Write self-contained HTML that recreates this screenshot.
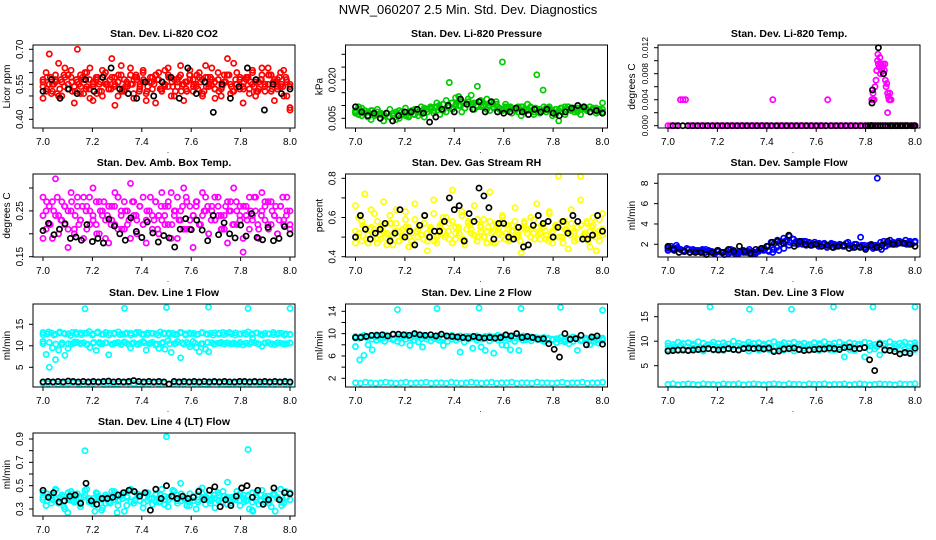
<!DOCTYPE html>
<html><head><meta charset="utf-8"><style>
html,body{margin:0;padding:0;background:#fff;}
svg{display:block;font-family:"Liberation Sans",Arial,sans-serif;}
</style></head><body>
<svg id="chart" width="936" height="540" viewBox="0 0 936 540" xmlns="http://www.w3.org/2000/svg">
<rect x="0" y="0" width="936" height="540" fill="#fff"/>
<text x="468" y="14" text-anchor="middle" font-size="13" fill="#000">NWR_060207  2.5 Min. Std. Dev. Diagnostics</text>
</svg>
<script>
// ---- data arrays (top level) ----
const xTicks = [7.0, 7.2, 7.4, 7.6, 7.8, 8.0];
const xTickLabels = ["7.0", "7.2", "7.4", "7.6", "7.8", "8.0"];

const co2Red1 = [0.49,0.60,0.55,0.52,0.57,0.64,0.50,0.58,0.53,0.61,0.47,0.56,0.59,0.51,0.54,0.62,0.48,0.57,0.55,0.50,0.60,0.53,0.58,0.46,0.56,0.63,0.52,0.55,0.59,0.49,0.57,0.54,0.61,0.51,0.56,0.58,0.47,0.60,0.53,0.55,0.62,0.50,0.57,0.54,0.59,0.48,0.56,0.61,0.52,0.55,0.58,0.50,0.63,0.54,0.57,0.49,0.60,0.53,0.56,0.59,0.51,0.64,0.55,0.58,0.47,0.57,0.53,0.60,0.50,0.56,0.62,0.52,0.55,0.59,0.48,0.57,0.54,0.61,0.50,0.45];
const co2Red2 = [0.57,0.52,0.68,0.55,0.59,0.50,0.56,0.62,0.53,0.58,0.54,0.70,0.51,0.57,0.60,0.49,0.55,0.58,0.52,0.61,0.56,0.53,0.66,0.55,0.50,0.59,0.57,0.54,0.62,0.51,0.58,0.55,0.60,0.48,0.56,0.53,0.59,0.57,0.52,0.61,0.54,0.58,0.50,0.56,0.63,0.55,0.52,0.59,0.57,0.54,0.60,0.51,0.58,0.55,0.62,0.53,0.57,0.50,0.59,0.66,0.55,0.52,0.60,0.57,0.54,0.58,0.51,0.61,0.56,0.53,0.59,0.55,0.62,0.52,0.57,0.54,0.60,0.50,0.56,0.44];
const co2Red3 = [0.54,0.58,0.51,0.56,0.53,0.59,0.55,0.52,0.57,0.54,0.60,0.53,0.56,0.58,0.52,0.55,0.57,0.54,0.59,0.53,0.56,0.55,0.58,0.52,0.57,0.54,0.56,0.59,0.53,0.55,0.58,0.54,0.57,0.52,0.56,0.59,0.55,0.53,0.57,0.54,0.58,0.56,0.52,0.55,0.59,0.54,0.57,0.53,0.56,0.58,0.55,0.52,0.57,0.54,0.59,0.56,0.53,0.55,0.58,0.54];
const co2Red4 = [0.56,0.53,0.58,0.55,0.51,0.57,0.54,0.59,0.56,0.52,0.55,0.58,0.53,0.57,0.54,0.51,0.56,0.59,0.55,0.53,0.58,0.56,0.52,0.54,0.57,0.55,0.59,0.53,0.56,0.52,0.58,0.55,0.57,0.53,0.54,0.59,0.56,0.52,0.58,0.55,0.53,0.57,0.54,0.59,0.56,0.52,0.58,0.55,0.53,0.57,0.54,0.56,0.59,0.52,0.55,0.57,0.53,0.58,0.56,0.54,0.52,0.57,0.55,0.59,0.53,0.56,0.58,0.54,0.57,0.55];
const co2Black = [0.52,0.57,0.49,0.53,0.51,0.57,0.52,0.58,0.62,0.53,0.51,0.49,0.56,0.50,0.56,0.58,0.49,0.62,0.51,0.56,0.43,0.55,0.49,0.54,0.62,0.57,0.44,0.55,0.51,0.53];

const presGreen1 = [0.008,0.0065,0.009,0.007,0.0055,0.008,0.006,0.0075,0.005,0.0065,0.007,0.0055,0.006,0.0075,0.005,0.0065,0.007,0.006,0.008,0.0065,0.0075,0.007,0.009,0.0085,0.0095,0.008,0.011,0.009,0.0105,0.012,0.0095,0.011,0.013,0.010,0.0115,0.009,0.0125,0.0105,0.011,0.0095,0.012,0.010,0.0085,0.011,0.0095,0.0105,0.009,0.008,0.0095,0.0085,0.009,0.008,0.0075,0.0095,0.0085,0.008,0.009,0.0075,0.0085,0.007,0.008,0.009,0.0085,0.0075,0.0065,0.008,0.009,0.0085,0.0095,0.008,0.009,0.0075,0.0085,0.009,0.008,0.0075,0.0085,0.009,0.008,0.011];
const presGreen2 = [0.007,0.0095,0.006,0.008,0.0075,0.0045,0.007,0.0085,0.0065,0.004,0.007,0.0085,0.006,0.0045,0.008,0.0065,0.009,0.0055,0.0075,0.0085,0.006,0.0095,0.0055,0.0075,0.0085,0.007,0.0095,0.0065,0.008,0.0075,0.019,0.0085,0.010,0.0135,0.0075,0.009,0.0105,0.014,0.0085,0.0175,0.0115,0.0095,0.0125,0.008,0.0105,0.0115,0.0085,0.027,0.0105,0.009,0.007,0.0085,0.0095,0.006,0.0075,0.0105,0.0095,0.0065,0.022,0.0085,0.016,0.0075,0.0095,0.006,0.0085,0.004,0.0075,0.0065,0.0095,0.0085,0.0075,0.009,0.0065,0.0095,0.0085,0.0075,0.009,0.007,0.0085,0.0075];
const presGreen3 = [0.0075,0.0085,0.007,0.006,0.008,0.0065,0.007,0.006,0.0055,0.007,0.0065,0.0075,0.006,0.007,0.0065,0.0075,0.008,0.0085,0.009,0.0095,0.010,0.0105,0.0095,0.011,0.0105,0.010,0.011,0.0115,0.0105,0.010,0.0095,0.0105,0.010,0.009,0.0095,0.0085,0.009,0.0095,0.0085,0.009,0.0095,0.0085,0.008,0.009,0.0085,0.0095,0.009,0.008,0.0085,0.009,0.0095,0.0085,0.009,0.008,0.0085,0.009,0.0095,0.0085,0.0075,0.0085];
const presBlack = [0.0095,0.0075,0.006,0.007,0.005,0.007,0.004,0.006,0.0075,0.0075,0.0085,0.007,0.0035,0.0055,0.0085,0.010,0.0075,0.0125,0.0105,0.0085,0.0115,0.0075,0.0115,0.0075,0.007,0.0075,0.009,0.0075,0.0065,0.0085,0.0075,0.0085,0.007,0.006,0.0075,0.009,0.010,0.0095,0.0075,0.008,0.007];

const tempMagenta = [0,0,0,0,0,0.004,0.004,0.004,0,0,0,0,0,0,0,0,0,0,0,0,0,0,0,0,0,0,0,0,0,0,0,0,0,0,0,0,0,0,0,0,0,0,0.004,0,0,0,0,0,0,0,0,0,0,0,0,0,0,0,0,0,0,0,0,0,0.004,0,0,0,0,0,0,0,0,0,0,0,0,0,0,0,0,0,0.004,0,0,0,0,0,0.002,0,0,0,0,0,0,0,0,0,0,0];
const tempHumpTimes = [7.825,7.83,7.835,7.838,7.842,7.845,7.848,7.85,7.852,7.855,7.858,7.86,7.862,7.865,7.868,7.87,7.873,7.876,7.878,7.88,7.883,7.886,7.889,7.892,7.895,7.898,7.9,7.903];
const tempHumpVals = [0.004,0.005,0.004,0.006,0.007,0.0085,0.010,0.011,0.0095,0.009,0.0105,0.008,0.0095,0.0085,0.009,0.0095,0.008,0.0085,0.0095,0.007,0.006,0.0065,0.005,0.0045,0.004,0.005,0.004,0.004];
const tempBlack = [0,0,0,0,0,0,0,0,0,0,0,0,0,0,0,0,0,0,0,0,0,0,0,0,0,0,0,0,0,0,0,0,0,0,0,0,0,0,0,0,0,0,0,0,0,0,0,0,0,0,0,0,0,0,0,0,0,0,0,0,0.0035,0.0055,0.012,0.008,0,0,0,0,0,0,0];
const tempBlackTimes = [7.02,7.04,7.06,7.08,7.10,7.12,7.14,7.16,7.18,7.20,7.22,7.24,7.26,7.28,7.30,7.32,7.34,7.36,7.38,7.40,7.42,7.44,7.46,7.48,7.50,7.52,7.54,7.56,7.58,7.60,7.62,7.64,7.66,7.68,7.70,7.72,7.74,7.76,7.78,7.80,7.81,7.82,7.822,7.824,7.826,7.83,7.84,7.85,7.86,7.87,7.88,7.89,7.90,7.91,7.92,7.93,7.94,7.95,7.96,7.97,7.826,7.828,7.852,7.872,7.905,7.925,7.945,7.965,7.985,7.995,8.0];

const ambMagenta1 = [0.28,0.21,0.26,0.19,0.32,0.24,0.27,0.22,0.25,0.29,0.20,0.26,0.23,0.28,0.21,0.25,0.30,0.22,0.27,0.24,0.19,0.26,0.23,0.29,0.21,0.25,0.27,0.22,0.31,0.24,0.20,0.26,0.28,0.23,0.25,0.21,0.27,0.24,0.29,0.22,0.26,0.19,0.25,0.28,0.23,0.30,0.21,0.26,0.24,0.27,0.22,0.29,0.25,0.20,0.26,0.23,0.28,0.24,0.21,0.27,0.25,0.30,0.22,0.26,0.19,0.24,0.28,0.23,0.25,0.21,0.29,0.26,0.22,0.27,0.24,0.20,0.26,0.23,0.28,0.25];
const ambMagenta2 = [0.19,0.25,0.22,0.27,0.24,0.20,0.23,0.26,0.17,0.25,0.21,0.28,0.23,0.19,0.26,0.22,0.24,0.27,0.20,0.25,0.23,0.18,0.26,0.22,0.28,0.24,0.21,0.25,0.19,0.27,0.23,0.26,0.22,0.18,0.25,0.24,0.27,0.20,0.23,0.26,0.22,0.29,0.24,0.19,0.25,0.21,0.27,0.23,0.17,0.26,0.22,0.24,0.28,0.20,0.25,0.23,0.26,0.21,0.24,0.18,0.27,0.22,0.25,0.23,0.16,0.26,0.21,0.24,0.28,0.19,0.25,0.23,0.27,0.22,0.24,0.20,0.26,0.22,0.25,0.21];
const ambMagenta3 = [0.24,0.27,0.22,0.25,0.28,0.23,0.26,0.21,0.27,0.24,0.22,0.26,0.25,0.28,0.23,0.20,0.25,0.27,0.24,0.22,0.26,0.28,0.21,0.25,0.23,0.27,0.24,0.26,0.22,0.25,0.28,0.23,0.21,0.26,0.24,0.27,0.22,0.25,0.23,0.26,0.28,0.21,0.24,0.27,0.22,0.25,0.26,0.23,0.28,0.24,0.21,0.26,0.25,0.22,0.27,0.24,0.26,0.23,0.25,0.28,0.22,0.24,0.27,0.21,0.25,0.26,0.23,0.28,0.24,0.22];
const ambBlack = [0.207,0.223,0.198,0.210,0.222,0.190,0.193,0.186,0.220,0.183,0.190,0.180,0.232,0.217,0.200,0.186,0.235,0.205,0.192,0.226,0.202,0.182,0.196,0.191,0.171,0.210,0.233,0.209,0.230,0.208,0.185,0.240,0.198,0.224,0.200,0.191,0.219,0.195,0.244,0.192,0.187,0.214,0.185,0.190,0.216,0.200];

const rhYellow1 = [0.66,0.50,0.58,0.72,0.47,0.55,0.62,0.49,0.53,0.68,0.46,0.57,0.51,0.64,0.48,0.54,0.59,0.45,0.52,0.67,0.50,0.56,0.61,0.48,0.53,0.69,0.47,0.55,0.60,0.51,0.57,0.74,0.49,0.54,0.63,0.46,0.58,0.52,0.66,0.50,0.55,0.59,0.47,0.73,0.53,0.57,0.49,0.61,0.52,0.48,0.56,0.65,0.50,0.54,0.58,0.46,0.60,0.52,0.67,0.49,0.55,0.51,0.62,0.47,0.56,0.81,0.50,0.58,0.53,0.64,0.48,0.55,0.69,0.51,0.57,0.45,0.60,0.52,0.48,0.62];
const rhYellow2 = [0.53,0.60,0.48,0.55,0.51,0.64,0.54,0.58,0.49,0.56,0.52,0.61,0.46,0.57,0.53,0.50,0.63,0.55,0.48,0.59,0.54,0.51,0.57,0.43,0.55,0.62,0.50,0.56,0.53,0.60,0.49,0.58,0.52,0.55,0.61,0.48,0.57,0.54,0.51,0.59,0.56,0.50,0.53,0.58,0.47,0.55,0.52,0.60,0.49,0.56,0.53,0.58,0.51,0.42,0.57,0.54,0.50,0.59,0.55,0.52,0.57,0.49,0.63,0.53,0.56,0.50,0.58,0.54,0.44,0.57,0.52,0.55,0.81,0.50,0.58,0.53,0.56,0.43,0.59,0.54];
const rhYellow3 = [0.47,0.52,0.56,0.49,0.54,0.51,0.47,0.55,0.52,0.49,0.57,0.53,0.48,0.51,0.55,0.50,0.46,0.53,0.56,0.49,0.52,0.54,0.48,0.51,0.57,0.50,0.53,0.47,0.55,0.52,0.49,0.54,0.56,0.51,0.48,0.53,0.50,0.55,0.52,0.47,0.54,0.51,0.56,0.49,0.53,0.50,0.48,0.55,0.52,0.54,0.49,0.51,0.56,0.53,0.48,0.52,0.55,0.50,0.47,0.54,0.51,0.53,0.49,0.56,0.52,0.48,0.55,0.50,0.53,0.51];
const rhBlack = [0.50,0.61,0.54,0.49,0.52,0.54,0.57,0.48,0.52,0.64,0.50,0.53,0.46,0.56,0.61,0.50,0.53,0.53,0.58,0.70,0.64,0.66,0.48,0.62,0.58,0.75,0.71,0.65,0.49,0.57,0.57,0.50,0.49,0.55,0.45,0.46,0.56,0.61,0.57,0.58,0.50,0.55,0.58,0.52,0.61,0.58,0.49,0.49,0.51,0.61,0.53];

const flowBlue1 = [1.6,1.8,1.4,1.7,1.5,1.3,1.6,1.2,1.5,1.4,1.3,1.5,1.2,1.4,1.3,1.1,1.3,1.2,1.0,1.3,1.2,1.4,1.1,1.3,1.4,1.2,1.5,1.3,1.1,1.4,1.6,1.5,1.8,2.2,2.1,2.4,2.3,2.6,2.4,2.2,2.5,2.3,2.1,2.0,2.3,2.1,1.9,2.2,2.0,1.8,2.1,1.9,2.0,1.7,1.9,2.0,1.8,2.1,1.9,1.7,2.0,1.8,1.9,1.6,1.8,2.0,1.7,1.9,2.2,2.3,2.1,2.4,2.2,2.0,2.3,2.1,2.4,2.2,2.0,2.3];
const flowBlue2 = [1.4,1.6,1.9,1.5,1.3,1.5,1.4,1.3,1.2,1.5,1.3,1.1,1.4,1.2,1.3,1.5,1.1,1.2,1.4,1.3,1.1,1.2,1.5,1.6,1.4,1.2,1.7,2.0,2.3,2.8,2.5,2.0,2.3,1.9,2.1,2.2,1.8,2.0,1.7,2.1,1.8,2.0,1.9,2.2,1.8,2.0,2.7,1.7,1.9,1.6,8.5,1.5,1.8,2.1,2.0,2.3,2.2,2.0,2.1,2.3];
const flowBlue3 = [1.7,1.5,1.6,1.4,1.5,1.3,1.4,1.4,1.3,1.2,1.3,1.2,1.1,1.2,1.1,1.2,1.3,1.2,1.3,1.4,1.3,1.5,1.4,1.6,1.9,2.1,2.2,2.3,2.2,2.0,2.1,2.0,1.9,2.0,1.9,1.8,1.9,2.0,1.8,1.9,1.8,1.9,1.7,1.8,2.0,2.1,2.2,2.1,2.3,2.2];
const flowBlack = [1.8,1.5,1.2,1.3,1.2,1.2,1.2,1.0,1.2,1.4,1.2,1.5,1.3,1.8,1.3,1.1,1.5,1.6,1.8,2.2,2.3,2.1,2.9,1.8,2.3,2.0,1.9,2.0,1.8,1.9,1.7,1.8,1.9,1.6,1.7,1.7,1.5,1.9,1.7,1.9,2.3,2.0,2.1,2.1,2.0,1.8];

const l1CyanHigh = [13.1,12.8,13.0,12.7,13.2,12.9,12.8,13.1,12.7,13.0,12.9,13.3,12.8,13.0,12.7,13.1,12.9,12.8,13.2,12.7,13.0,12.9,12.8,13.1,12.7,13.0,12.9,12.8,13.2,12.8,13.0,12.9,12.7,13.1,12.8,13.0,12.9,12.7,13.1,12.8,12.9,13.0,12.7,13.1,12.9,12.8,13.0,12.7,12.9,13.2,12.8,13.0,12.7,12.9,12.8,13.1,12.7,12.9,12.8,12.6];
const l1CyanHigh2 = [12.6,13.2,12.5,13.0,12.8,12.4,13.1,12.6,12.9,12.5,13.2,12.7,12.5,13.0,12.6,12.8,12.5,13.1,12.7,12.6,12.9,12.5,13.0,12.7,12.6,13.1,12.5,12.8,12.6,13.0,12.7,12.5,12.9,12.6,13.1,12.5,12.8,12.7,12.6,13.0,12.5,12.8,12.6,12.9,12.5,12.7];
const l1CyanMid = [11.0,8.0,5.0,9.5,6.8,9.0,10.3,7.8,9.4,10.4,10.6,10.8,10.5,10.7,10.3,9.6,10.6,8.9,10.8,10.5,10.7,7.9,10.4,10.6,10.8,10.3,10.9,10.5,9.5,10.7,10.4,10.6,11.0,9.0,10.5,10.8,10.2,9.4,10.6,9.2,11.2,8.5,10.5,11.0,7.2,10.4,10.8,9.8,11.0,9.6,8.6,10.5,9.2,8.6,10.7,10.5,10.6,10.8,10.4,10.6,10.5,10.7,10.4,10.8,10.2,10.6,10.5,11.8,10.7,10.4,9.9,10.6,10.8,10.5,10.3,10.7,10.6,10.4,10.5,10.6];
const l1CyanMid2 = [10.5,10.8,10.4,10.7,10.5,10.9,10.6,10.4,10.8,10.5,10.7,10.4,10.6,10.8,10.5,10.3,10.7,10.6,10.4,10.8,10.5,10.6,10.7,10.4,10.6,10.5,10.8,10.4,10.6,10.7,10.5,10.4,10.6,10.8,10.5,10.7,10.4,10.6,10.5,10.7];
const l1CyanLow = [1.3,1.2,1.4,1.1,1.3,1.2,1.4,1.2,1.1,1.3,1.2,1.4,1.2,1.3,1.1,1.2,1.4,1.3,1.2,1.1,1.3,1.2,1.4,1.2,1.3,1.1,1.2,1.3,1.2,1.4,1.2,1.3,1.1,1.2,1.4,1.3,1.2,1.1,1.3,1.2,1.3,1.2,1.4,1.1,1.2,1.3,1.2,1.4,1.2,1.3];
const l1CyanOutTimes = [7.17,7.33,7.50,7.67,7.83,8.0];
const l1CyanOutVals = [18.6,18.7,18.9,19.0,18.7,18.7];
const l1Black = [1.6,1.7,1.6,1.7,1.6,1.8,1.7,1.6,1.7,1.6,1.7,1.6,1.7,1.8,1.6,1.7,1.6,1.7,1.9,1.7,1.6,1.7,1.6,1.7,1.6,1.1,1.7,1.6,1.7,1.6,1.7,1.6,1.7,1.6,1.7,1.6,1.7,1.6,1.6,1.7,1.7,1.6,1.7,1.6,1.7,1.6,1.7,1.6,1.7,1.6];

const l2CyanHigh = [9.5,9.2,9.7,9.4,9.6,9.8,9.3,9.7,9.5,9.9,9.4,9.6,9.8,9.3,9.7,9.5,9.6,9.4,9.8,9.5,9.6,9.3,9.5,9.7,9.4,9.6,9.2,9.5,9.4,9.6,9.3,9.5,9.6,9.4,9.7,9.5,9.6,9.3,9.5,9.4,9.6,9.2,9.4,9.3,9.1,9.3,9.2,9.0,9.1,9.3,9.0,9.2,9.4,9.1,8.9,9.2,9.0,9.3,9.1,9.2];
const l2CyanHigh2 = [9.2,9.5,9.3,9.0,9.4,9.2,9.5,9.1,9.3,9.6,9.2,9.4,9.1,9.5,9.3,9.2,9.0,9.4,9.3,9.1,9.5,9.2,9.3,9.0,9.4,9.1,9.3,9.2,9.0,9.3,9.1,8.9,9.2,9.0,8.8,9.1,8.9,9.0,8.7,8.9,9.2,8.8,9.0,8.7,8.9,8.8];
const l2CyanMid = [7.7,5.3,6.1,8.0,7.1,8.8,9.0,8.6,9.1,8.9,8.6,8.3,9.0,7.9,8.8,8.5,7.6,9.0,8.7,9.1,8.8,7.9,8.6,9.0,8.8,6.7,8.5,9.0,7.4,8.8,7.6,7.0,8.7,6.5,8.9,8.0,7.9,7.1,8.6,7.0,8.8,9.0,8.7,9.1,9.2,8.6,8.9,9.0,8.4,8.7,8.5,8.2,8.6,7.0,8.7,8.9,8.0,8.6,8.3,8.9];
const l2CyanLow = [1.2,1.1,1.3,1.2,1.1,1.2,1.3,1.2,1.1,1.2,1.3,1.1,1.2,1.2,1.3,1.1,1.2,1.2,1.1,1.3,1.2,1.1,1.2,1.3,1.2,1.1,1.2,1.3,1.1,1.2,1.2,1.3,1.1,1.2,1.2,1.1,1.3,1.2,1.2,1.1,1.2,1.3,1.1,1.2,1.2,1.3,1.1,1.2,1.2,1.3];
const l2CyanOutTimes = [7.17,7.33,7.50,7.67,7.83,8.0];
const l2CyanOutVals = [14.3,14.5,14.6,14.5,14.7,14.2];
const l2Black = [9.3,9.3,9.5,9.7,9.7,9.8,9.6,9.9,9.9,9.8,9.7,10.0,9.8,9.7,9.8,9.6,9.9,9.6,9.5,9.4,9.3,9.2,9.5,9.3,9.2,9.3,9.2,9.3,9.8,9.6,10.0,9.3,9.5,9.3,9.0,9.1,8.2,7.2,5.8,10.0,9.0,9.1,9.7,8.0,9.4,9.6,8.1];

const l3CyanHigh = [9.6,9.3,9.8,9.5,9.7,9.4,9.9,9.6,9.3,9.8,9.5,9.7,9.4,10.0,9.6,9.3,9.8,9.5,9.7,9.4,9.6,9.9,9.3,9.7,9.5,9.8,9.4,9.6,9.3,9.7,9.5,9.9,9.4,9.6,9.8,9.3,9.7,9.5,9.4,9.8,9.6,9.3,9.7,9.5,9.9,9.4,9.6,9.8,9.5,9.7];
const l3CyanHigh2 = [9.0,8.8,9.2,8.9,9.1,8.7,9.0,9.2,8.8,9.1,8.9,9.0,8.7,9.2,8.9,9.1,8.8,9.0,9.2,8.9,8.7,9.1,9.0,8.8,9.2,8.9,9.0,8.8,9.1,8.9,9.2,8.7,9.0,8.9,9.1,8.8,9.0,9.2,8.9,9.1];
const l3CyanMid = [8.3,8.5,8.1,8.4,8.2,8.6,8.3,8.0,8.5,8.2,8.4,8.1,8.6,8.3,8.2,8.5,8.0,8.4,8.2,8.6,8.3,8.1,8.5,8.2,8.4,8.0,8.3,8.6,8.2,8.4,8.1,8.5,8.3,8.2,8.4,6.8,8.3,8.1,8.5,6.8,8.2,8.4,7.2,8.3,8.1,8.5,8.2,8.4,8.0,8.3];
const l3CyanLow = [1.2,1.3,1.1,1.2,1.3,1.2,1.1,1.3,1.2,1.2,1.1,1.3,1.2,1.2,1.3,1.1,1.2,1.3,1.2,1.1,1.2,1.3,1.2,1.1,1.3,1.2,1.2,1.1,1.3,1.2,1.2,1.3,1.1,1.2,1.2,1.3,1.1,1.2,1.3,1.2,1.1,1.2,1.3,1.2,1.2,1.1,1.3,1.2,1.2,1.3];
const l3CyanOutTimes = [7.17,7.33,7.50,7.67,7.83,8.0];
const l3CyanOutVals = [17.0,16.5,16.5,17.0,17.0,17.0];
const l3Black = [8.0,8.1,8.2,8.2,8.1,8.2,8.3,8.4,8.5,8.3,8.2,8.3,8.5,8.3,8.2,8.5,8.6,8.5,8.6,8.4,8.6,7.9,8.0,8.4,8.5,8.6,8.3,8.1,8.2,8.3,8.4,8.4,8.6,8.5,8.3,8.7,8.8,8.5,8.5,8.7,6.2,4.0,9.4,8.2,8.1,7.9,7.4,7.7,7.5,8.6];

const l4Cyan1 = [0.44,0.33,0.41,0.38,0.46,0.35,0.42,0.30,0.39,0.45,0.36,0.43,0.32,0.40,0.47,0.37,0.34,0.44,0.39,0.31,0.42,0.36,0.45,0.38,0.33,0.41,0.28,0.40,0.46,0.35,0.43,0.37,0.31,0.44,0.39,0.34,0.42,0.36,0.47,0.38,0.32,0.41,0.45,0.35,0.52,0.39,0.33,0.43,0.37,0.30,0.46,0.40,0.34,0.42,0.38,0.31,0.44,0.36,0.41,0.53,0.35,0.39,0.45,0.33,0.42,0.37,0.30,0.44,0.38,0.34,0.46,0.36,0.41,0.32,0.43,0.39,0.47,0.35,0.40,0.44];
const l4Cyan2 = [0.38,0.43,0.35,0.47,0.40,0.32,0.44,0.37,0.41,0.34,0.46,0.39,0.36,0.43,0.29,0.40,0.35,0.45,0.38,0.42,0.33,0.47,0.37,0.41,0.35,0.44,0.39,0.36,0.42,0.34,0.40,0.46,0.37,0.43,0.38,0.33,0.41,0.36,0.48,0.39,0.35,0.42,0.37,0.45,0.34,0.40,0.38,0.43,0.36,0.41,0.29,0.44,0.37,0.39,0.35,0.42,0.40,0.33,0.45,0.38];
const l4Cyan3 = [0.40,0.37,0.42,0.39,0.36,0.41,0.38,0.43,0.37,0.40,0.42,0.36,0.39,0.41,0.38,0.35,0.40,0.43,0.37,0.39,0.41,0.36,0.38,0.42,0.40,0.37,0.39,0.43,0.36,0.41,0.38,0.40,0.42,0.37,0.39,0.36,0.41,0.38,0.43,0.40,0.37,0.39,0.42,0.36,0.40,0.38,0.41,0.37,0.39,0.42,0.36,0.40,0.38,0.41,0.37,0.43,0.39,0.36,0.40,0.38];
const l4CyanOutTimes = [7.17,7.50,7.83,7.10,7.21,7.30,7.85,7.94];
const l4CyanOutVals = [0.80,0.92,0.81,0.27,0.28,0.27,0.28,0.28];
const l4Black = [0.46,0.40,0.44,0.36,0.37,0.41,0.42,0.35,0.52,0.37,0.34,0.39,0.39,0.40,0.42,0.44,0.46,0.45,0.41,0.44,0.29,0.47,0.39,0.50,0.41,0.39,0.41,0.39,0.40,0.45,0.38,0.46,0.49,0.32,0.38,0.33,0.41,0.48,0.50,0.40,0.46,0.34,0.38,0.48,0.38,0.44,0.43];

// ---- drawing ----
const svg = document.getElementById('chart');
const NS = 'http://www.w3.org/2000/svg';
const colLeft = [33, 345.5, 658];
const rowTop = [45, 174, 304, 433];
const BOXW = 262, BOXH = 83;

function mk(tag, attrs) {
  const e = document.createElementNS(NS, tag);
  for (const k in attrs) e.setAttribute(k, attrs[k]);
  return e;
}
function evenTimes(n) { const t = []; for (let i = 0; i < n; i++) t.push(7 + i / (n - 1)); return t; }

function panel(cfg) {
  const L = colLeft[cfg.col], T = rowTop[cfg.row];
  const g = mk('g', {});
  
  
  svg.appendChild(g);
  const xs = v => L + 10 + (v - 7) * 247;
  const ys = v => T + cfg.p1 + (v - cfg.v1) * (cfg.p2 - cfg.p1) / (cfg.v2 - cfg.v1);
  const pg = mk('g', {});
  
  
  g.appendChild(pg);
  cfg.series.forEach(s => {
    const times = s.times || evenTimes(s.vals.length);
    s.vals.forEach((v, i) => {
      const c = mk('circle', {cx: xs(times[i]).toFixed(1), cy: ys(v).toFixed(1), r: 2.6, fill: 'none', stroke: s.color, 'stroke-width': 1.7});
      
      
      pg.appendChild(c);
    });
  });
  const box = mk('rect', {x: L, y: T, width: BOXW, height: BOXH, fill: 'none', stroke: '#000', 'stroke-width': 1});
  
  
  g.appendChild(box);
  const t = mk('text', {x: L + BOXW / 2, y: T - 8, 'text-anchor': 'middle', 'font-size': 10.5, 'font-weight': 'bold'});
  t.textContent = cfg.title;
  
  
  g.appendChild(t);
  xTicks.forEach((v, i) => {
    const x = xs(v);
    const tk = mk('line', {x1: x, y1: T + BOXH, x2: x, y2: T + BOXH + 4, stroke: '#000'});
    
    
    g.appendChild(tk);
    const lb = mk('text', {x: x, y: T + BOXH + 17, 'text-anchor': 'middle', 'font-size': 10});
    lb.textContent = xTickLabels[i];
    
    
    g.appendChild(lb);
  });
  const dot = mk('text', {x: L + 135, y: T + BOXH + 25, 'text-anchor': 'middle', 'font-size': 8});
  dot.textContent = '.';
  
  
  g.appendChild(dot);
  cfg.yTicks.forEach(v => {
    const y = ys(v);
    const tk = mk('line', {x1: L - 4, y1: y, x2: L, y2: y, stroke: '#000'});
    
    
    g.appendChild(tk);
  });
  cfg.yLabels.forEach((lab, i) => {
    const y = ys(cfg.yLabelVals[i]);
    const lb = mk('text', {x: 0, y: 0, 'text-anchor': 'middle', 'font-size': cfg.yFont || 10, transform: 'translate(' + (L - 10) + ',' + y.toFixed(1) + ') rotate(-90)'});
    lb.textContent = lab;
    
    
    g.appendChild(lb);
  });
  const yl = mk('text', {x: 0, y: 0, 'text-anchor': 'middle', 'font-size': 10, transform: 'translate(' + (L - 23) + ',' + (T + BOXH / 2) + ') rotate(-90)'});
  yl.textContent = cfg.ylabel;
  
  
  g.appendChild(yl);
}

const RED = '#ff0000', BLK = '#000000', GRN = '#00cc00', MAG = '#ff00ff', YEL = '#ffff00', BLU = '#0000ff', CYN = '#00ffff';

panel({col:0,row:0,name:'co2',title:'Stan. Dev. Li-820 CO2',ylabel:'Licor ppm',v1:0.40,p1:74.3,v2:0.70,p2:4.3,
  yTicks:[0.40,0.45,0.50,0.55,0.60,0.65,0.70],yLabels:['0.40','0.55','0.70'],yLabelVals:[0.40,0.55,0.70],
  series:[{color:RED,vals:co2Red1},{color:RED,vals:co2Red2},{color:RED,vals:co2Red3},{color:RED,vals:co2Red4},{color:BLK,vals:co2Black}]});
panel({col:1,row:0,name:'pressure',title:'Stan. Dev. Li-820 Pressure',ylabel:'kPa',v1:0.005,p1:73.3,v2:0.030,p2:9.3,
  yTicks:[0.005,0.010,0.015,0.020,0.025,0.030],yLabels:['0.005','0.020'],yLabelVals:[0.005,0.020],
  series:[{color:GRN,vals:presGreen1},{color:GRN,vals:presGreen2},{color:GRN,vals:presGreen3},{color:BLK,vals:presBlack}]});
panel({col:2,row:0,name:'li820-temp',title:'Stan. Dev. Li-820 Temp.',ylabel:'degrees C',v1:0,p1:80.7,v2:0.012,p2:2.7,yFont:8.5,
  yTicks:[0,0.002,0.004,0.006,0.008,0.010,0.012],yLabels:['0.000','0.004','0.008','0.012'],yLabelVals:[0,0.004,0.008,0.012],
  series:[{color:MAG,vals:tempMagenta},{color:MAG,vals:tempHumpVals,times:tempHumpTimes},{color:BLK,vals:tempBlack,times:tempBlackTimes}]});
panel({col:0,row:1,name:'amb-box-temp',title:'Stan. Dev. Amb. Box Temp.',ylabel:'degrees C',v1:0.15,p1:82.7,v2:0.30,p2:14,
  yTicks:[0.15,0.20,0.25,0.30],yLabels:['0.15','0.25'],yLabelVals:[0.15,0.25],
  series:[{color:MAG,vals:ambMagenta1},{color:MAG,vals:ambMagenta2},{color:MAG,vals:ambMagenta3},{color:BLK,vals:ambBlack}]});
panel({col:1,row:1,name:'gas-stream-rh',title:'Stan. Dev. Gas Stream RH',ylabel:'percent',v1:0.4,p1:82.7,v2:0.8,p2:4.3,
  yTicks:[0.4,0.5,0.6,0.7,0.8],yLabels:['0.4','0.6','0.8'],yLabelVals:[0.4,0.6,0.8],
  series:[{color:YEL,vals:rhYellow1},{color:YEL,vals:rhYellow2},{color:YEL,vals:rhYellow3},{color:BLK,vals:rhBlack}]});
panel({col:2,row:1,name:'sample-flow',title:'Stan. Dev. Sample Flow',ylabel:'ml/min',v1:2,p1:70.3,v2:8,p2:9.3,
  yTicks:[2,4,6,8],yLabels:['2','4','6','8'],yLabelVals:[2,4,6,8],
  series:[{color:BLU,vals:flowBlue1},{color:BLU,vals:flowBlue2},{color:BLU,vals:flowBlue3},{color:BLK,vals:flowBlack}]});
panel({col:0,row:2,name:'line1-flow',title:'Stan. Dev. Line 1 Flow',ylabel:'ml/min',v1:5,p1:63.3,v2:15,p2:20.3,
  yTicks:[5,10,15],yLabels:['5','10','15'],yLabelVals:[5,10,15],
  series:[{color:CYN,vals:l1CyanHigh},{color:CYN,vals:l1CyanHigh2},{color:CYN,vals:l1CyanMid},{color:CYN,vals:l1CyanMid2},{color:CYN,vals:l1CyanLow},{color:CYN,vals:l1CyanOutVals,times:l1CyanOutTimes},{color:BLK,vals:l1Black}]});
panel({col:1,row:2,name:'line2-flow',title:'Stan. Dev. Line 2 Flow',ylabel:'ml/min',v1:2,p1:74.3,v2:14,p2:7.3,
  yTicks:[2,4,6,8,10,12,14],yLabels:['2','6','10','14'],yLabelVals:[2,6,10,14],
  series:[{color:CYN,vals:l2CyanHigh},{color:CYN,vals:l2CyanHigh2},{color:CYN,vals:l2CyanMid},{color:CYN,vals:l2CyanLow},{color:CYN,vals:l2CyanOutVals,times:l2CyanOutTimes},{color:BLK,vals:l2Black}]});
panel({col:2,row:2,name:'line3-flow',title:'Stan. Dev. Line 3 Flow',ylabel:'ml/min',v1:5,p1:61.7,v2:15,p2:12.7,
  yTicks:[5,10,15],yLabels:['5','10','15'],yLabelVals:[5,10,15],
  series:[{color:CYN,vals:l3CyanHigh},{color:CYN,vals:l3CyanHigh2},{color:CYN,vals:l3CyanMid},{color:CYN,vals:l3CyanLow},{color:CYN,vals:l3CyanOutVals,times:l3CyanOutTimes},{color:BLK,vals:l3Black}]});
panel({col:0,row:3,name:'line4-flow',title:'Stan. Dev. Line 4 (LT) Flow',ylabel:'ml/min',v1:0.3,p1:76,v2:0.9,p2:6,
  yTicks:[0.3,0.4,0.5,0.6,0.7,0.8,0.9],yLabels:['0.3','0.5','0.7','0.9'],yLabelVals:[0.3,0.5,0.7,0.9],
  series:[{color:CYN,vals:l4Cyan1},{color:CYN,vals:l4Cyan2},{color:CYN,vals:l4Cyan3},{color:CYN,vals:l4CyanOutVals,times:l4CyanOutTimes},{color:BLK,vals:l4Black}]});
</script>
</body></html>
